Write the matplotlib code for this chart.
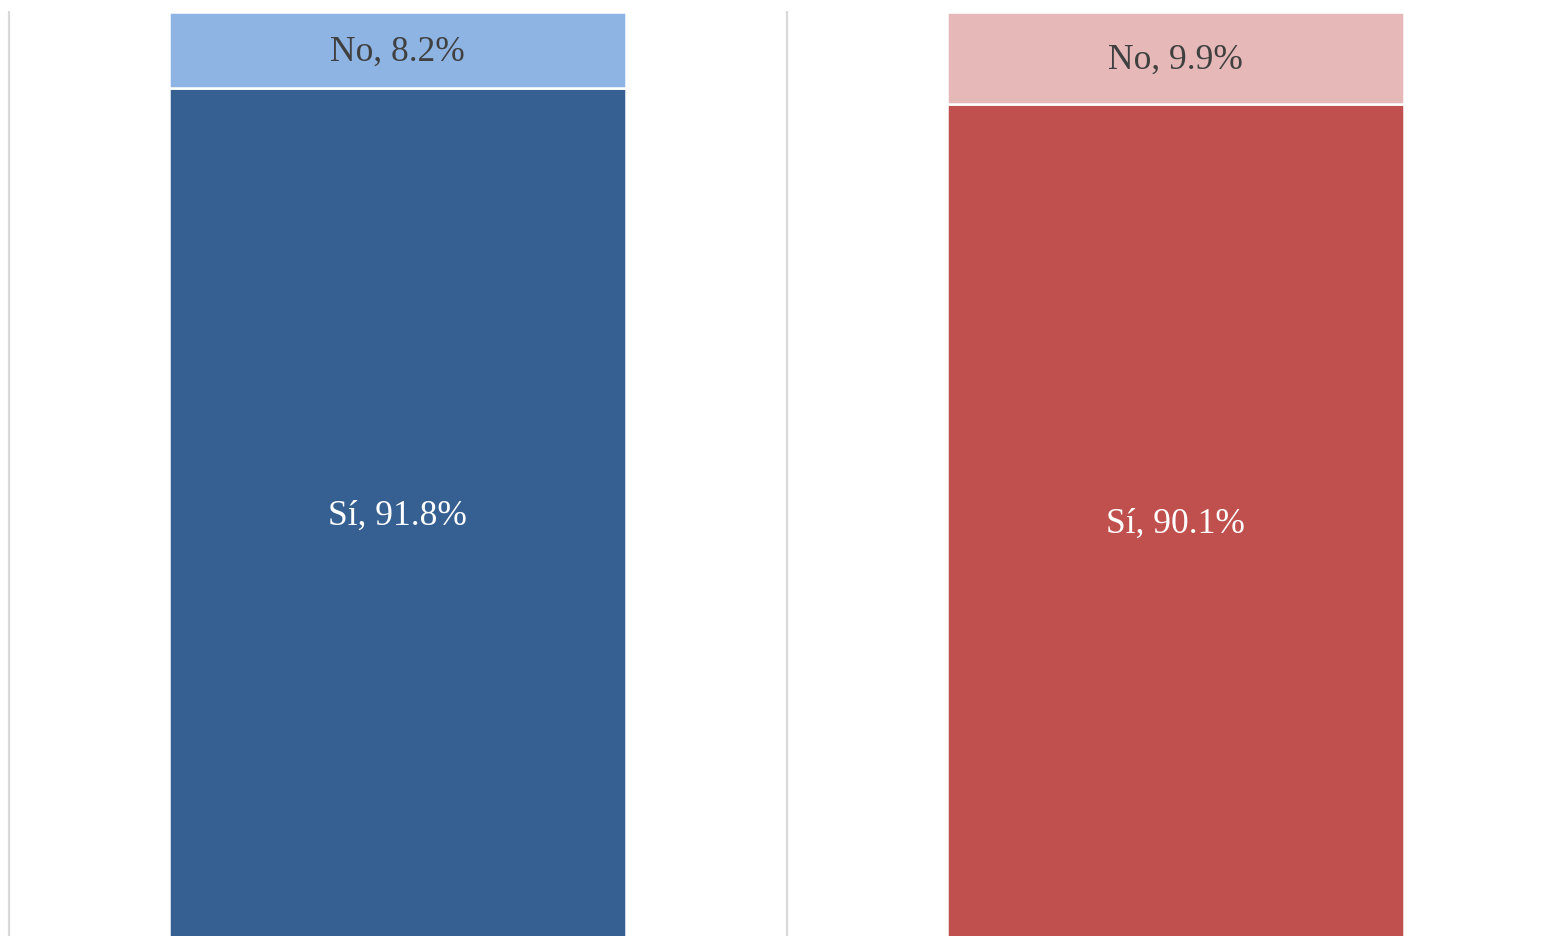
import matplotlib
matplotlib.use("Agg")
import matplotlib.pyplot as plt

groups = ["A", "B"]
si_values = [91.8, 90.1]
no_values = [8.2, 9.9]
si_colors = ["#366092", "#C0504D"]
no_colors = ["#8EB4E3", "#E6B9B8"]
si_labels = ["Sí, 91.8%", "Sí, 90.1%"]
no_labels = ["No, 8.2%", "No, 9.9%"]

plt.rcParams['font.family'] = ['Liberation Serif', 'DejaVu Serif']

fig = plt.figure(figsize=(15.45, 9.36), dpi=100)
ax = fig.add_axes([0, 0, 1, 1])
ax.set_xlim(-0.511, 1.475)
ax.set_ylim(0.54, 101.29)
ax.axis('off')

x = list(range(len(groups)))
w = 0.588
ax.bar(x, si_values, width=w, color=si_colors, edgecolor='white', linewidth=1.8, zorder=2)
ax.bar(x, no_values, bottom=si_values, width=w, color=no_colors, edgecolor='white', linewidth=1.8, zorder=2)

for xi in [-0.5, 0.5]:
    ax.vlines(xi, 0, 100.12, color='#d9d9d9', linewidth=1.6, zorder=1)

for i in x:
    ax.text(i, si_values[i] / 2 - 0.22, si_labels[i], ha='center', va='center',
            color='white', fontsize=25.5, zorder=3)
    ax.text(i, si_values[i] + no_values[i] / 2 - 0.22, no_labels[i], ha='center', va='center',
            color='#404040', fontsize=25.5, zorder=3)

fig.savefig("out.png", dpi=100)
